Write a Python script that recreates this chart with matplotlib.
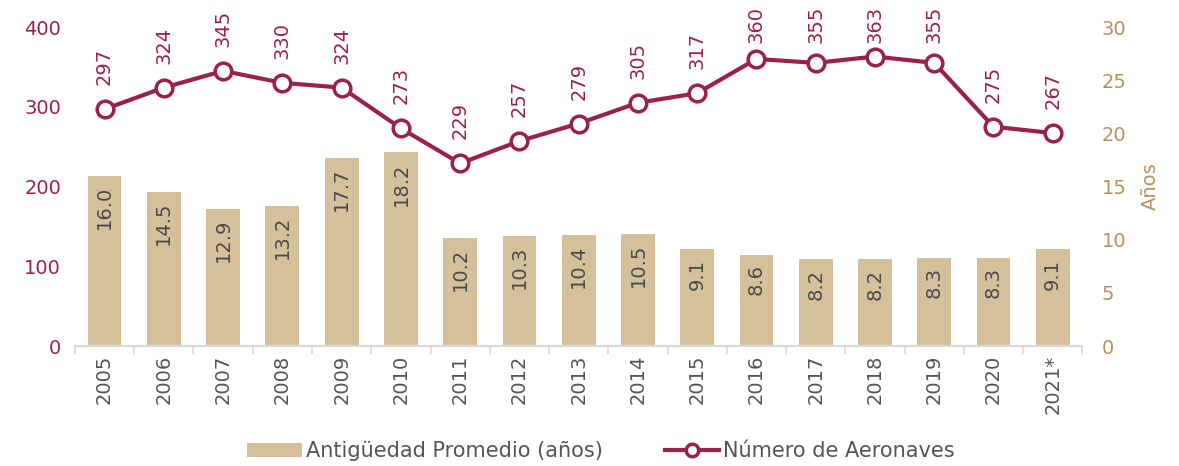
import matplotlib
matplotlib.use("Agg")
import matplotlib.pyplot as plt
from matplotlib.lines import Line2D
from matplotlib.patches import Patch

plt.rcParams['font.family'] = ['DejaVu Sans']

years = ["2005", "2006", "2007", "2008", "2009", "2010", "2011", "2012", "2013",
         "2014", "2015", "2016", "2017", "2018", "2019", "2020", "2021*"]
antiguedad = [16.0, 14.5, 12.9, 13.2, 17.7, 18.2, 10.2, 10.3, 10.4, 10.5,
              9.1, 8.6, 8.2, 8.2, 8.3, 8.3, 9.1]
aeronaves = [297, 324, 345, 330, 324, 273, 229, 257, 279, 305, 317, 360,
             355, 363, 355, 275, 267]

crimson = "#9B2247"
tan = "#D4C19C"
tan_text = "#B8915F"
gray_text = "#555555"
bar_text = "#4A4A4A"

DPI = 100
fig = plt.figure(figsize=(11.79, 4.66), dpi=DPI)
ax = fig.add_axes([0.0636, 0.2575, 0.918 - 0.0636, 0.942 - 0.2575])
ax2 = ax.twinx()

x = list(range(len(years)))

# bars on right axis
ax2.bar(x, antiguedad, width=0.57, color=tan, zorder=1)
ax2.set_ylim(0, 30)
ax2.set_yticks([0, 5, 10, 15, 20, 25, 30])
ax2.tick_params(axis='y', colors=tan_text, labelsize=14, length=0, pad=14)
ax2.set_ylabel("Años", color=tan_text, fontsize=14, labelpad=10)
for xi, v in zip(x, antiguedad):
    ax2.annotate(f"{v:.1f}", (xi, v), xytext=(0, -7), textcoords='offset points',
                 rotation=90, ha='center', va='top', fontsize=14, color=bar_text)

# line on left axis, drawn on top
ax.set_zorder(ax2.get_zorder() + 1)
ax.patch.set_visible(False)
ax.plot(x, aeronaves, color=crimson, lw=3, marker='o', markersize=12,
        markerfacecolor='white', markeredgecolor=crimson, markeredgewidth=2.5,
        zorder=3)
ax.set_ylim(0, 400)
ax.set_yticks([0, 100, 200, 300, 400])
ax.tick_params(axis='y', colors=crimson, labelsize=14, length=0, pad=10)
ax.set_xlim(-0.5, len(years) - 0.5)

# value labels above points; pushed down when they would leave the figure
fig_h_px = fig.get_figheight() * DPI
gap_px = 24
label_len_px = 38
max_bottom_px = fig_h_px - 5 - label_len_px
for xi, v in zip(x, aeronaves):
    py = ax.transData.transform((xi, v))[1]
    target = min(py + gap_px, max_bottom_px)
    off_pt = (target - py) * 72.0 / DPI
    ax.annotate(f"{v}", (xi, v), xytext=(0, off_pt), textcoords='offset points',
                rotation=90, ha='center', va='bottom', fontsize=14, color=crimson)

ax.set_xticks(x)
ax.set_xticklabels(years, rotation=90, fontsize=14, color=gray_text)
ax.set_xticks([i - 0.5 for i in range(len(years) + 1)], minor=True)
ax.tick_params(axis='x', which='major', length=0, pad=6)
ax.tick_params(axis='x', which='minor', length=6, color="#D9D9D9", width=1.2)

for a in (ax, ax2):
    for s in ('top', 'left', 'right', 'bottom'):
        a.spines[s].set_visible(False)
ax.spines['bottom'].set_visible(True)
ax.spines['bottom'].set_color("#D9D9D9")
ax.spines['bottom'].set_linewidth(1.5)

handles = [Patch(facecolor=tan, edgecolor='none'),
           Line2D([0], [0], color=crimson, lw=3, marker='o', markersize=9,
                  markerfacecolor='white', markeredgecolor=crimson, markeredgewidth=2.5)]
leg = fig.legend(handles, ["Antigüedad Promedio (años)", "Número de Aeronaves"],
                 loc='center', bbox_to_anchor=(0.51, 0.032), ncol=2, frameon=False,
                 fontsize=15, handlelength=2.6, handleheight=0.7, columnspacing=3.0,
                 handletextpad=0.2)
for t in leg.get_texts():
    t.set_color(gray_text)

fig.savefig("out.png", dpi=DPI)
